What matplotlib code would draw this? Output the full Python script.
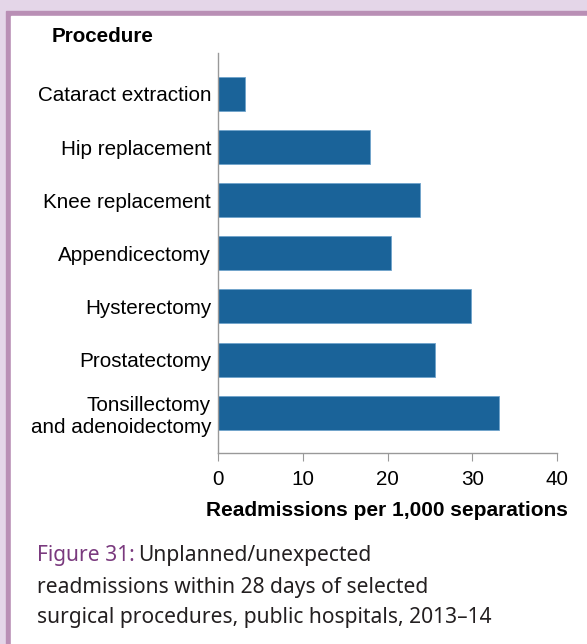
import matplotlib.pyplot as plt
from matplotlib.patches import Rectangle

# Readmissions per 1,000 separations by procedure
procedures = ["Cataract extraction", "Hip replacement", "Knee replacement",
              "Appendicectomy", "Hysterectomy", "Prostatectomy",
              "Tonsillectomy\nand adenoidectomy"]
rates = [3.2, 17.9, 23.8, 20.4, 29.9, 25.6, 33.1]
xticks = [0, 10, 20, 30, 40]

bar_color = "#1a6399"
frame_light = "#e4d6e8"
frame_dark = "#b98fb5"

fig = plt.figure(figsize=(5.87, 6.44), dpi=100)
W, H = 587, 644

# frame: light strip, purple border
fig.patches.append(Rectangle((0, 0), 1, 1, transform=fig.transFigure,
                             color=frame_light, zorder=-10))
fig.patches.append(Rectangle((6 / W, 0), 1 - 6 / W, 1 - 11 / H,
                             transform=fig.transFigure, color=frame_dark, zorder=-9))
fig.patches.append(Rectangle((11 / W, 0), 1 - 11 / W, 1 - 16 / H,
                             transform=fig.transFigure, color="white", zorder=-8))

ax = fig.add_axes([218 / W, 1 - 453 / H, (557 - 218) / W, (453 - 53) / H])
ax.set_facecolor("none")
ax.barh(range(len(procedures)), rates, height=0.64, color=bar_color,
        edgecolor="#6fa3cc", linewidth=0.6)
ax.set_ylim(6.76, -0.77)
ax.set_xlim(0, 40)
ax.set_xticks(xticks)
ax.set_yticks(range(len(procedures)))
ax.set_yticklabels(procedures, fontsize=14.9, family="Liberation Sans",
                   linespacing=1.25, multialignment="right")
ax.tick_params(axis="y", length=0, pad=5)
ax.tick_params(axis="x", length=6, color="#999999", labelsize=14.9, pad=6)
for t in ax.get_xticklabels():
    t.set_family("Liberation Sans")
for s in ["top", "right"]:
    ax.spines[s].set_visible(False)
for s in ["left", "bottom"]:
    ax.spines[s].set_color("#999999")
    ax.spines[s].set_linewidth(1)

fig.text(52 / W, 1 - 37 / H, "Procedure", fontsize=14.9, fontweight="bold",
         family="Liberation Sans", va="center", ha="left")
fig.text(387 / W, 1 - 510 / H, "Readmissions per 1,000 separations",
         fontsize=15, fontweight="bold", family="Liberation Sans",
         va="center", ha="center")

# caption
cap_font = dict(fontsize=15.1, family="Noto Sans", va="center", ha="left")
t1 = fig.text(37 / W, 1 - 555 / H, "Figure 31:", color="#7a3a7e", **cap_font)
fig.canvas.draw()
bb = t1.get_window_extent()
fig.text(bb.x1 / W + 3 / W, 1 - 555 / H, "Unplanned/unexpected",
         color="#231f20", **cap_font)
fig.text(37 / W, 1 - 587 / H, "readmissions within 28 days of selected",
         color="#231f20", **cap_font)
fig.text(37 / W, 1 - 617 / H, "surgical procedures, public hospitals, 2013\u201314",
         color="#231f20", **cap_font)

fig.savefig("out.png", dpi=100)
